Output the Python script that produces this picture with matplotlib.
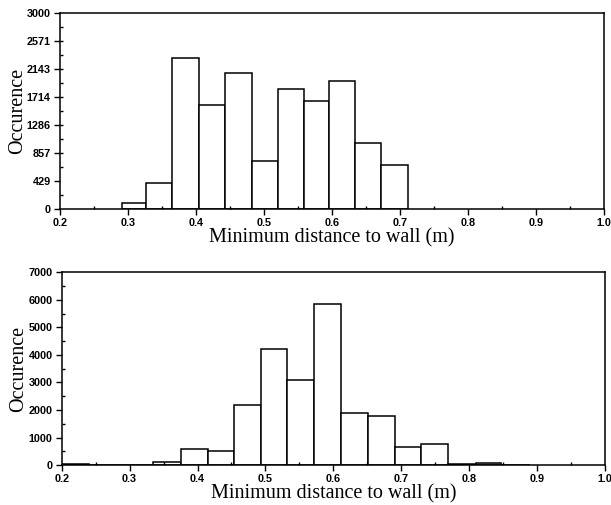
import numpy as np
import matplotlib
matplotlib.use("Agg")
import matplotlib.pyplot as plt
from matplotlib.ticker import AutoMinorLocator

# top histogram: bin edges (m) and counts
top_edges = [0.291, 0.326, 0.365, 0.404, 0.443, 0.482, 0.521, 0.559,
             0.596, 0.634, 0.672, 0.711]
top_counts = [90, 400, 2310, 1590, 2090, 740, 1840, 1650, 1960, 1010, 670]
top_yticks = [0, 429, 857, 1286, 1714, 2143, 2571, 3000]

# bottom histogram
bot_edges = [0.200, 0.240, 0.280, 0.334, 0.375, 0.415, 0.454, 0.494, 0.532,
             0.572, 0.612, 0.651, 0.691, 0.729, 0.769, 0.810, 0.847, 0.890]
bot_counts = [30, 20, 10, 130, 570, 500, 2180, 4200, 3080, 5840, 1900, 1790,
              650, 780, 40, 90, 20]
bot_yticks = [0, 1000, 2000, 3000, 4000, 5000, 6000, 7000]

xticks = [0.2, 0.3, 0.4, 0.5, 0.6, 0.7, 0.8, 0.9, 1.0]
xlabel = "Minimum distance to wall (m)"
ylabel = "Occurence"

TICKFONT = dict(family="Liberation Sans", weight="bold", size=7.8)
LABFONT = dict(family="Liberation Serif", size=14.5)


def draw(ax, edges, counts, yticks):
    e = np.asarray(edges)
    ax.bar(e[:-1], counts, width=np.diff(e), align="edge",
           facecolor="white", edgecolor="black", linewidth=1.1)
    ax.set_xlim(0.2, 1.0)
    ax.set_ylim(yticks[0], yticks[-1])
    ax.set_xticks(xticks)
    ax.set_xticklabels([f"{t:.1f}" for t in xticks], **TICKFONT)
    ax.set_yticks(yticks)
    ax.set_yticklabels([str(t) for t in yticks], **TICKFONT)
    ax.xaxis.set_minor_locator(AutoMinorLocator(2))
    ax.yaxis.set_minor_locator(AutoMinorLocator(2))
    ax.tick_params(which="major", direction="out", length=4, width=1, pad=2.5)
    ax.tick_params(which="minor", direction="in", length=2.5, width=1)
    ax.tick_params(top=False, right=False, which="both")
    for s in ax.spines.values():
        s.set_linewidth(1.1)
    ax.set_xlabel(xlabel, labelpad=0, **LABFONT)
    ax.set_ylabel(ylabel, labelpad=0, **LABFONT)


fig = plt.figure(figsize=(6.11, 5.05), dpi=100)
ax1 = fig.add_axes([0.098, 0.586, 0.891, 0.388])
ax2 = fig.add_axes([0.101, 0.079, 0.889, 0.382])
draw(ax1, top_edges, top_counts, top_yticks)
draw(ax2, bot_edges, bot_counts, bot_yticks)
ax2.patches[15].set_facecolor("#bbbbbb")

fig.savefig("out.png", dpi=100)
